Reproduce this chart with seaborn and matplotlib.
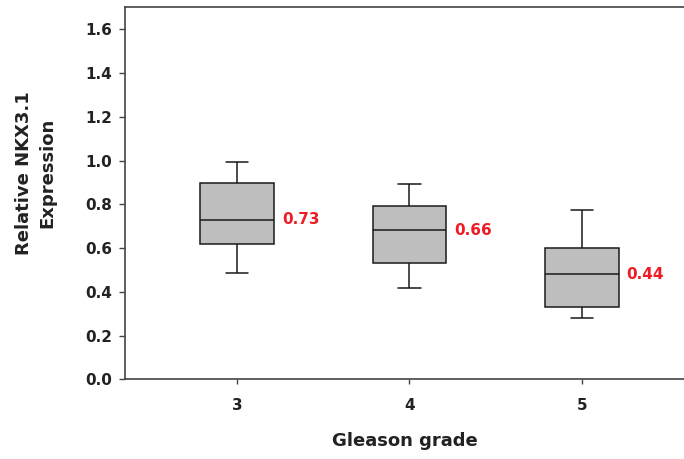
import matplotlib.pyplot as plt
import pandas as pd
import seaborn as sns

# five-number summaries (min, q1, median, q3, max)
grades = ["3", "4", "5"]
grade3 = [0.485, 0.617, 0.730, 0.897, 0.992]
grade4 = [0.416, 0.533, 0.681, 0.792, 0.894]
grade5 = [0.282, 0.331, 0.480, 0.600, 0.773]
mean_labels = ["0.73", "0.66", "0.44"]

sns.set_style("ticks")
plt.rcParams["font.family"] = ["DejaVu Sans"]
plt.rcParams["font.weight"] = "bold"

df = pd.DataFrame(
    {
        "grade": [g for g, vals in zip(grades, [grade3, grade4, grade5]) for _ in vals],
        "expr": grade3 + grade4 + grade5,
    }
)

fig = plt.figure(figsize=(6.84, 4.59), dpi=100)
ax = fig.add_axes([125 / 684, 1 - 379.3 / 459, (684 - 125) / 684, (379.3 - 6.7) / 459])

sns.boxplot(
    data=df,
    x="grade",
    y="expr",
    order=grades,
    whis=(0, 100),
    width=0.426,
    color="#bebebe",
    linecolor="#1a1a1a",
    linewidth=1.1,
    saturation=1,
    capwidths=0.128,
    ax=ax,
)

# red labels beside each box, at the median
for i, (vals, lab) in enumerate(zip([grade3, grade4, grade5], mean_labels)):
    ax.text(i + 0.26, vals[2], lab, color="#ee1c25", fontsize=11,
            fontweight="bold", ha="left", va="center")

ax.set_xlim(-0.651, 2.593)
ax.set_ylim(0, 1.703)
ax.set_yticks([0.0, 0.2, 0.4, 0.6, 0.8, 1.0, 1.2, 1.4, 1.6])
ax.set_yticklabels([f"{v:.1f}" for v in ax.get_yticks()])

for side in ["left", "bottom", "top"]:
    ax.spines[side].set_color("#444444")
    ax.spines[side].set_linewidth(1.2)
ax.spines["right"].set_visible(False)

ax.tick_params(axis="y", direction="out", length=4.5, width=1, color="#444444",
               pad=5, labelsize=11, labelcolor="#222222")
ax.tick_params(axis="x", direction="out", length=3.5, width=1, color="#444444",
               pad=10, labelsize=11, labelcolor="#222222")

ax.set_xlabel("Gleason grade", fontsize=13, fontweight="bold", color="#222222", labelpad=14)
ax.set_ylabel("Relative NKX3.1\nExpression", fontsize=13, fontweight="bold",
              color="#222222", linespacing=1.4)
ax.yaxis.set_label_coords(-0.122, 0.554)

fig.savefig("out.png", dpi=100)
